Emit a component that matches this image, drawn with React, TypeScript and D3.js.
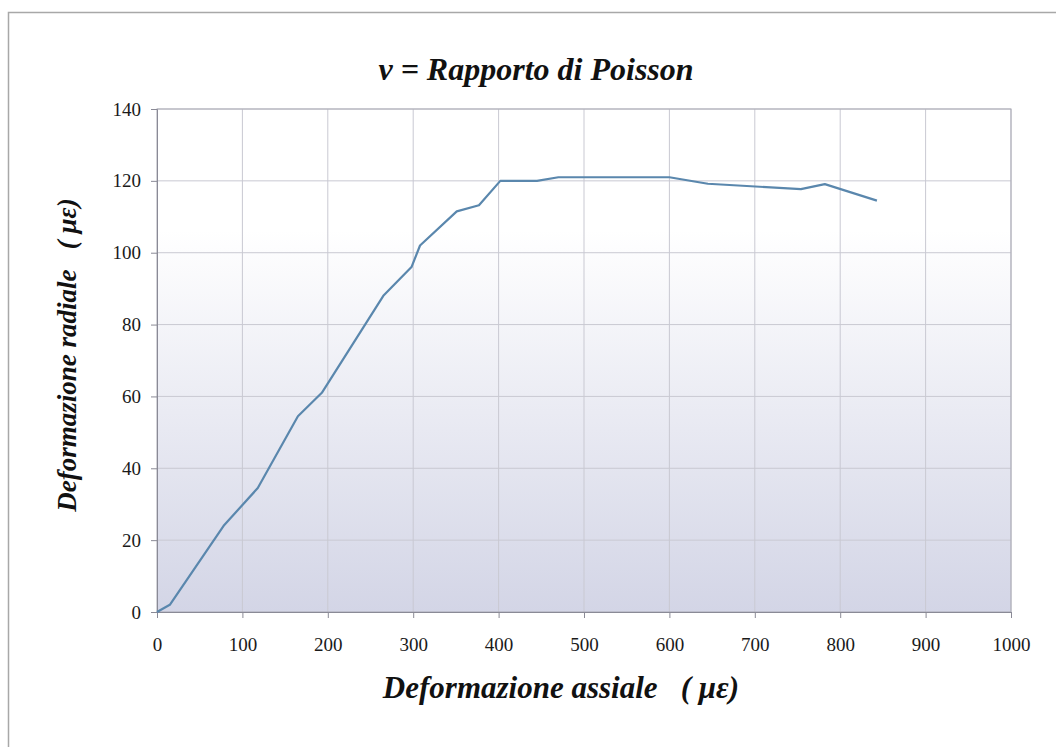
import React, { useEffect, useRef } from 'react';
import * as d3 from 'd3';

// axial strain (με) vs radial strain (με)
const axialStrain = [0, 15, 78, 118, 165, 193, 265, 298, 308, 351, 377, 402, 445, 470, 600, 645, 754, 782, 843];
const radialStrain = [0, 2, 24, 34.5, 54.5, 61, 88, 96, 102, 111.5, 113.2, 120, 120, 121, 121, 119.2, 117.7, 119.1, 114.5];

const xTicks = [0, 100, 200, 300, 400, 500, 600, 700, 800, 900, 1000];
const yTicks = [0, 20, 40, 60, 80, 100, 120, 140];

const chartTitle = 'ν = Rapporto di Poisson';
const xTitle = 'Deformazione assiale   ( με)';
const yTitle = 'Deformazione radiale   ( με)';

const App: React.FC = () => {
  const svgRef = useRef<SVGSVGElement>(null);

  useEffect(() => {
    if (!svgRef.current) return;
    const svg = d3.select(svgRef.current);
    svg.selectAll('*').remove();

    const font = '"Liberation Serif", "Times New Roman", serif';
    const plot = { left: 157, right: 1011, top: 109, bottom: 612 };

    const xScale = d3.scaleLinear().domain([0, 1000]).range([plot.left, plot.right]);
    const yScale = d3.scaleLinear().domain([0, 140]).range([plot.bottom, plot.top]);

    // background gradient of the plot area
    const defs = svg.append('defs');
    const grad = defs.append('linearGradient')
      .attr('id', 'plotBg')
      .attr('x1', 0).attr('y1', 0).attr('x2', 0).attr('y2', 1);
    grad.append('stop').attr('offset', '0%').attr('stop-color', '#ffffff');
    grad.append('stop').attr('offset', '24%').attr('stop-color', '#ffffff');
    grad.append('stop').attr('offset', '100%').attr('stop-color', '#d3d5e6');

    // outer frame
    svg.append('rect')
      .attr('x', 8.5).attr('y', 12.5)
      .attr('width', 1100).attr('height', 800)
      .attr('fill', 'none')
      .attr('stroke', '#a8a8a8')
      .attr('stroke-width', 1.5);

    svg.append('rect')
      .attr('x', plot.left).attr('y', plot.top)
      .attr('width', plot.right - plot.left)
      .attr('height', plot.bottom - plot.top)
      .attr('fill', 'url(#plotBg)');

    // grid lines
    const grid = svg.append('g');
    grid.selectAll('.vgrid')
      .data(xTicks.slice(1))
      .enter()
      .append('line')
      .attr('x1', d => xScale(d)).attr('x2', d => xScale(d))
      .attr('y1', plot.top).attr('y2', plot.bottom)
      .attr('stroke', '#c9c9d2')
      .attr('stroke-width', 1);
    grid.selectAll('.hgrid')
      .data(yTicks.slice(1))
      .enter()
      .append('line')
      .attr('x1', plot.left).attr('x2', plot.right)
      .attr('y1', d => yScale(d)).attr('y2', d => yScale(d))
      .attr('stroke', '#c9c9d2')
      .attr('stroke-width', 1);

    // plot border
    svg.append('rect')
      .attr('x', plot.left).attr('y', plot.top)
      .attr('width', plot.right - plot.left)
      .attr('height', plot.bottom - plot.top)
      .attr('fill', 'none')
      .attr('stroke', '#a9a9b4')
      .attr('stroke-width', 1);

    // axes
    const xAxis = svg.append('g')
      .attr('transform', `translate(0,${plot.bottom})`)
      .call(d3.axisBottom(xScale).tickValues(xTicks).tickSize(6).tickPadding(20).tickFormat(d3.format('d')));
    xAxis.select('.domain').attr('stroke', '#8a8a96');
    xAxis.selectAll('.tick line').attr('stroke', '#8a8a96');
    xAxis.selectAll('text')
      .style('font-family', font)
      .style('font-size', '19px')
      .attr('fill', '#1a1a1a');

    const yAxis = svg.append('g')
      .attr('transform', `translate(${plot.left},0)`)
      .call(d3.axisLeft(yScale).tickValues(yTicks).tickSize(6).tickPadding(10).tickFormat(d3.format('d')));
    yAxis.select('.domain').attr('stroke', '#8a8a96');
    yAxis.selectAll('.tick line').attr('stroke', '#8a8a96');
    yAxis.selectAll('text')
      .style('font-family', font)
      .style('font-size', '19px')
      .attr('fill', '#1a1a1a');

    // data line
    const points = axialStrain.map((x, i) => [x, radialStrain[i]] as [number, number]);
    const line = d3.line<[number, number]>()
      .x(d => xScale(d[0]))
      .y(d => yScale(d[1]));
    svg.append('path')
      .datum(points)
      .attr('d', line)
      .attr('fill', 'none')
      .attr('stroke', '#5a87ad')
      .attr('stroke-width', 2.2)
      .attr('stroke-linejoin', 'round');

    // titles
    svg.append('text')
      .attr('x', 536).attr('y', 80)
      .attr('text-anchor', 'middle')
      .style('font-family', font)
      .style('font-size', '32px')
      .style('font-weight', 'bold')
      .style('font-style', 'italic')
      .attr('fill', '#111')
      .text(chartTitle);

    svg.append('text')
      .attr('x', 561).attr('y', 698)
      .attr('text-anchor', 'middle')
      .style('font-family', font)
      .style('font-size', '31px')
      .style('font-weight', 'bold')
      .style('font-style', 'italic')
      .style('white-space', 'pre')
      .attr('fill', '#111')
      .text(xTitle);

    svg.append('text')
      .attr('transform', 'translate(76,355) rotate(-90)')
      .attr('text-anchor', 'middle')
      .style('font-family', font)
      .style('font-size', '27px')
      .style('font-weight', 'bold')
      .style('font-style', 'italic')
      .style('white-space', 'pre')
      .attr('fill', '#111')
      .text(yTitle);
  }, []);

  return (
    <svg
      ref={svgRef}
      width={1056}
      height={747}
      style={{ position: 'absolute', left: 0, top: 0, background: '#fff' }}
    />
  );
};

export default App;
